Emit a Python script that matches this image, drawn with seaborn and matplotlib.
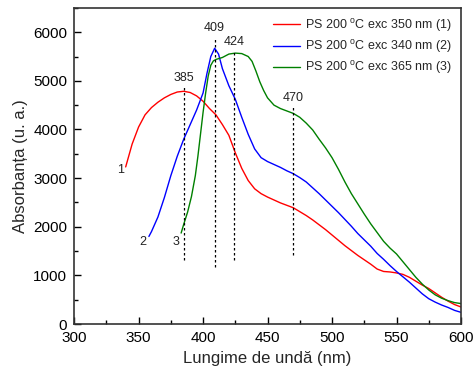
import numpy as np
import pandas as pd
import matplotlib
matplotlib.use("Agg")
import matplotlib.pyplot as plt
import seaborn as sns
from matplotlib.ticker import MultipleLocator

# ---- data ----
red_x = [340, 345, 350, 355, 360, 365, 370, 375, 380, 385, 390, 395, 400, 405, 410, 415, 420, 425, 430,
         435, 440, 445, 450, 455, 460, 465, 470, 475, 480, 485, 490, 495, 500, 505, 510, 515, 520, 525,
         530, 535, 540, 545, 550, 555, 560, 565, 570, 575, 580, 585, 590, 595, 600]
red_y = [3230, 3700, 4050, 4300, 4450, 4560, 4650, 4720, 4770, 4785, 4760, 4690, 4580, 4430, 4300, 4100,
         3880, 3520, 3200, 2950, 2780, 2680, 2610, 2550, 2490, 2440, 2390, 2310, 2230, 2140, 2040, 1940,
         1830, 1720, 1610, 1510, 1410, 1320, 1230, 1130, 1080, 1070, 1050, 1020, 960, 880, 800, 730, 640,
         550, 470, 400, 350]

blue_x = [358, 360, 365, 370, 375, 380, 385, 390, 395, 400, 403, 406, 409, 412, 415, 420, 425, 430, 435,
          440, 445, 450, 455, 460, 465, 470, 475, 480, 485, 490, 495, 500, 505, 510, 515, 520, 525, 530,
          535, 540, 545, 550, 555, 560, 565, 570, 575, 580, 585, 590, 595, 600]
blue_y = [1800, 1900, 2200, 2600, 3050, 3450, 3800, 4100, 4400, 4750, 5150, 5500, 5670, 5550, 5250, 4900,
          4620, 4250, 3900, 3600, 3420, 3340, 3280, 3220, 3150, 3090, 3010, 2920, 2800, 2680, 2550, 2420,
          2290, 2150, 2010, 1860, 1730, 1600, 1450, 1330, 1200, 1080, 970, 860, 740, 620, 520, 450, 390,
          340, 280, 240]

green_x = [383, 385, 388, 391, 394, 396, 398, 400, 402, 404, 406, 408, 410, 415, 420, 425, 430, 435, 438,
           441, 444, 447, 450, 455, 460, 465, 470, 475, 480, 485, 490, 495, 500, 505, 510, 515, 520, 525,
           530, 535, 540, 545, 550, 555, 560, 565, 570, 575, 580, 585, 590, 595, 600]
green_y = [1870, 2050, 2300, 2620, 3050, 3450, 3900, 4350, 4750, 5100, 5320, 5410, 5440, 5480, 5550, 5570,
           5560, 5500, 5400, 5200, 4980, 4800, 4650, 4500, 4430, 4380, 4330, 4250, 4130, 3990, 3800, 3620,
           3420, 3180, 2920, 2680, 2470, 2260, 2060, 1880, 1700, 1560, 1440, 1280, 1120, 960, 820, 700,
           600, 530, 480, 440, 420]

series_labels = ["PS 200 $^{\\mathrm{o}}$C exc 350 nm (1)",
                 "PS 200 $^{\\mathrm{o}}$C exc 340 nm (2)",
                 "PS 200 $^{\\mathrm{o}}$C exc 365 nm (3)"]
series_colors = ["#ff0000", "#0000ff", "#008000"]

peak_x = [385, 409, 424, 470]
peak_top = [4866, 5897, 5608, 4454]
peak_bottom = [1320, 1175, 1320, 1423]
peak_labels = ["385", "409", "424", "470"]

curve_tags = ["1", "2", "3"]

# ---- build frame ----
df = pd.concat([
    pd.DataFrame({"x": red_x, "y": red_y, "s": series_labels[0]}),
    pd.DataFrame({"x": blue_x, "y": blue_y, "s": series_labels[1]}),
    pd.DataFrame({"x": green_x, "y": green_y, "s": series_labels[2]}),
], ignore_index=True)

sns.set_theme(style="white")
plt.rcParams["font.family"] = ["Liberation Sans", "DejaVu Sans"]
plt.rcParams["mathtext.fontset"] = "custom"
plt.rcParams["mathtext.rm"] = "Liberation Sans"

fig = plt.figure(figsize=(4.75, 3.75), dpi=100)
ax = fig.add_axes([0.156, 0.136, 0.8145, 0.843])

sns.lineplot(data=df, x="x", y="y", hue="s", palette=dict(zip(series_labels, series_colors)),
             hue_order=series_labels, sort=False, estimator=None, lw=1.0, ax=ax)

# dotted marker lines
ax.vlines(peak_x, peak_bottom, peak_top, colors="black", linestyles=(0, (2, 2)), lw=0.9)
for px, pt, lab in zip(peak_x, peak_top, peak_labels):
    ax.text(px, pt + 70, lab, ha="center", va="bottom", fontsize=9, color="#222222")

# curve tags
starts = [(red_x[0], red_y[0]), (blue_x[0], blue_y[0]), (green_x[0], green_y[0])]
offsets = [(-1, -60), (-2, -110), (-1, -180)]
for (sx, sy), (dx, dy), t in zip(starts, offsets, curve_tags):
    ax.text(sx + dx, sy + dy, t, ha="right", va="center", fontsize=9, color="#222222")

ax.set_xlim(300, 600)
ax.set_ylim(0, 6500)
ax.xaxis.set_major_locator(MultipleLocator(50))
ax.xaxis.set_minor_locator(MultipleLocator(25))
ax.yaxis.set_major_locator(MultipleLocator(1000))
ax.yaxis.set_minor_locator(MultipleLocator(500))
ax.tick_params(which="both", direction="in", bottom=True, left=True, top=False, right=False,
               colors="black", labelsize=11)
ax.tick_params(which="major", length=5, width=1)
ax.tick_params(which="minor", length=3, width=1)
ax.tick_params(axis="x", pad=5)
ax.tick_params(axis="y", pad=5)
for sp in ax.spines.values():
    sp.set_color("#333333")
    sp.set_linewidth(1.2)

ax.set_xlabel("Lungime de undă (nm)", fontsize=12, labelpad=4)
ax.set_ylabel("Absorbanța (u. a.)", fontsize=12, labelpad=4)

leg = ax.legend(loc="upper right", frameon=False, fontsize=9, handlelength=2.2,
                handletextpad=0.4, borderaxespad=0.3, labelspacing=0.35)
leg.set_title(None)

fig.savefig("out.png", dpi=100)
